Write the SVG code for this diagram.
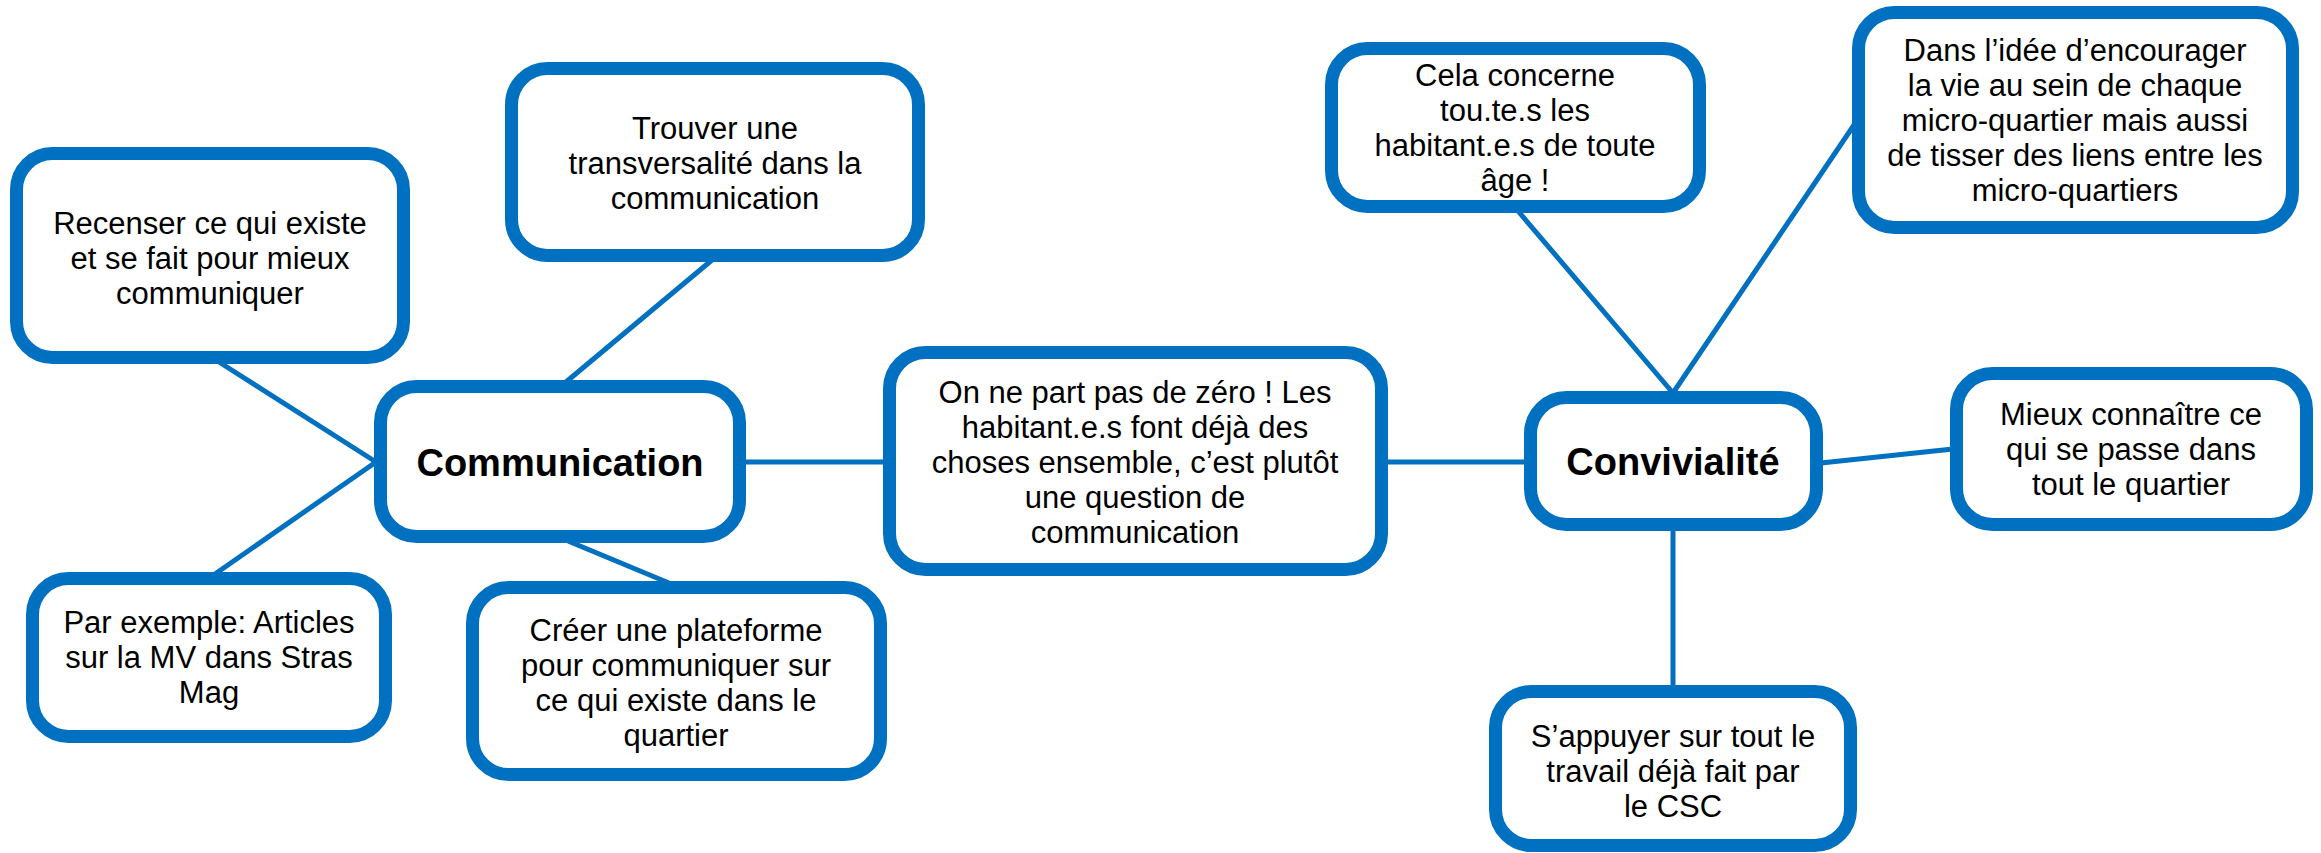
<svg xmlns="http://www.w3.org/2000/svg" width="2321" height="853" viewBox="0 0 2321 853">
<style>
.box{fill:#ffffff;stroke:#0070C0;stroke-width:13}
.edge{stroke:#0070C0;stroke-width:5;fill:none}
.t{font-family:"Liberation Sans",Arial,sans-serif;font-size:31px;fill:#000;text-anchor:middle}
.b{font-family:"Liberation Sans",Arial,sans-serif;font-size:38px;font-weight:bold;fill:#000;text-anchor:middle}
</style>
<rect width="2321" height="853" fill="#ffffff"/>
<g id="connectors">
<line class="edge" x1="219" y1="362" x2="376" y2="462"/>
<line class="edge" x1="215" y1="574" x2="376" y2="462"/>
<line class="edge" x1="712" y1="260" x2="566" y2="382"/>
<line class="edge" x1="568" y1="541" x2="669" y2="583"/>
<line class="edge" x1="744" y1="462" x2="885" y2="462"/>
<line class="edge" x1="1386" y1="462" x2="1526" y2="462"/>
<line class="edge" x1="1673" y1="393" x2="1518" y2="211"/>
<line class="edge" x1="1673" y1="393" x2="1854" y2="125"/>
<line class="edge" x1="1821" y1="463" x2="1953" y2="449"/>
<line class="edge" x1="1673" y1="529" x2="1673" y2="687"/>
</g>
<g id="recenser">
<rect class="box" x="16.5" y="153.5" width="387" height="204" rx="36"/>
<text class="t" x="210" y="234">Recenser ce qui existe</text>
<text class="t" x="210" y="269">et se fait pour mieux</text>
<text class="t" x="210" y="304">communiquer</text>
</g>
<g id="trouver">
<rect class="box" x="511.5" y="68.5" width="407" height="187" rx="36"/>
<text class="t" x="715" y="139">Trouver une</text>
<text class="t" x="715" y="174">transversalité dans la</text>
<text class="t" x="715" y="209">communication</text>
</g>
<g id="communication">
<rect class="box" x="380.5" y="386.5" width="359" height="150" rx="36"/>
<text class="b" x="560" y="476">Communication</text>
</g>
<g id="par-exemple">
<rect class="box" x="32.5" y="578.5" width="353" height="158" rx="36"/>
<text class="t" x="209" y="633">Par exemple: Articles</text>
<text class="t" x="209" y="668">sur la MV dans Stras</text>
<text class="t" x="209" y="703">Mag</text>
</g>
<g id="creer">
<rect class="box" x="472.5" y="587.5" width="408" height="187" rx="36"/>
<text class="t" x="676" y="641">Créer une plateforme</text>
<text class="t" x="676" y="676">pour communiquer sur</text>
<text class="t" x="676" y="711">ce qui existe dans le</text>
<text class="t" x="676" y="746">quartier</text>
</g>
<g id="on-ne-part">
<rect class="box" x="889.5" y="352.5" width="492" height="217" rx="36"/>
<text class="t" x="1135" y="403">On ne part pas de zéro ! Les</text>
<text class="t" x="1135" y="438">habitant.e.s font déjà des</text>
<text class="t" x="1135" y="473">choses ensemble, c’est plutôt</text>
<text class="t" x="1135" y="508">une question de</text>
<text class="t" x="1135" y="543">communication</text>
</g>
<g id="convivialite">
<rect class="box" x="1530.5" y="397.5" width="286" height="127" rx="36"/>
<text class="b" x="1673" y="475">Convivialité</text>
</g>
<g id="cela-concerne">
<rect class="box" x="1331.5" y="48.5" width="368" height="158" rx="36"/>
<text class="t" x="1515" y="86">Cela concerne</text>
<text class="t" x="1515" y="121">tou.te.s les</text>
<text class="t" x="1515" y="156">habitant.e.s de toute</text>
<text class="t" x="1515" y="191">âge !</text>
</g>
<g id="dans-idee">
<rect class="box" x="1858.5" y="12.5" width="434" height="215" rx="36"/>
<text class="t" x="2075" y="61">Dans l’idée d’encourager</text>
<text class="t" x="2075" y="96">la vie au sein de chaque</text>
<text class="t" x="2075" y="131">micro-quartier mais aussi</text>
<text class="t" x="2075" y="166">de tisser des liens entre les</text>
<text class="t" x="2075" y="201">micro-quartiers</text>
</g>
<g id="mieux">
<rect class="box" x="1956.5" y="373.5" width="350" height="151" rx="36"/>
<text class="t" x="2131" y="425">Mieux connaître ce</text>
<text class="t" x="2131" y="460">qui se passe dans</text>
<text class="t" x="2131" y="495">tout le quartier</text>
</g>
<g id="appuyer">
<rect class="box" x="1495.5" y="691.5" width="355" height="154" rx="36"/>
<text class="t" x="1673" y="747">S’appuyer sur tout le</text>
<text class="t" x="1673" y="782">travail déjà fait par</text>
<text class="t" x="1673" y="817">le CSC</text>
</g>
</svg>
